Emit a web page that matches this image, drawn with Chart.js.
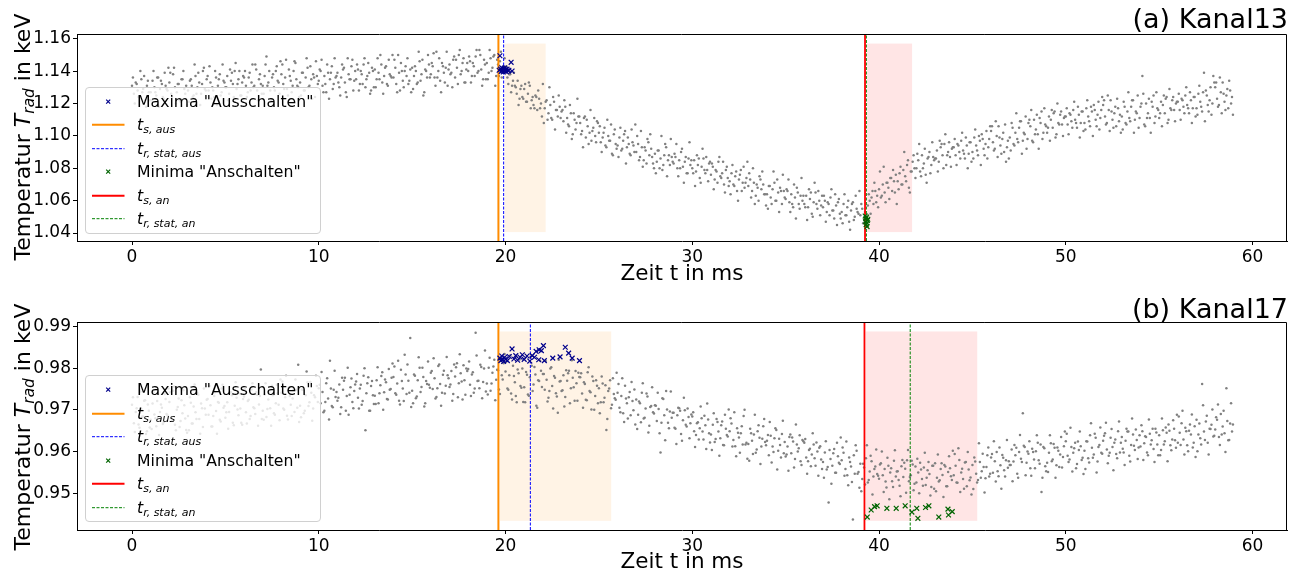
<!DOCTYPE html>
<html>
<head>
<meta charset="utf-8">
<script src="https://cdn.jsdelivr.net/npm/chart.js@4.4.1/dist/chart.umd.min.js"></script>
<style>
  body { margin: 0; background: #fff; font-family: 'DejaVu Sans', sans-serif; color: #000; }
  #wrap { position: relative; width: 1305px; height: 579px; overflow: hidden; }
  canvas { position: absolute; left: 0; }
  .titel { position: absolute; right: 17px; font-size: 27px; line-height: 27px; white-space: nowrap; }
  .xlabel { position: absolute; font-size: 21.5px; line-height: 22px; white-space: nowrap; transform: translate(-50%, -50%); }
  .ylabel { position: absolute; font-size: 22px; line-height: 22px; white-space: nowrap; transform: translate(-50%, -50%) rotate(-90deg); }
  .ylabel sub, .legende sub { font-size: 70%; font-style: italic; vertical-align: -0.28em; line-height: 0; }
  .legende { position: absolute; left: 85px; width: 236px; height: 147px; box-sizing: border-box;
    padding: 2px 0 0 6px; background: rgba(255,255,255,0.8); border: 1px solid #d0d0d0; border-radius: 4px;
    font-size: 15.7px; }
  .lg-row { display: flex; align-items: center; height: 23.5px; }
  .lg-row svg { flex: none; }
</style>
</head>
<body>
<div id="wrap">
  <canvas id="kanal13" width="1305" height="290" style="top:0"></canvas>
  <canvas id="kanal17" width="1305" height="290" style="top:289px"></canvas>
</div>
<script>
const dtMs = 0.1;
const xTicks = [0, 10, 20, 30, 40, 50, 60];
const xRange = [-2.945, 61.845];

// Kanal 13, T_rad in keV, Abtastung alle 0.1 ms ab t = 0
const temp13 = [
  1.131,1.126,1.133,1.128,1.124,1.135,1.129,1.122,1.131,1.127,
  1.127,1.134,1.130,1.125,1.136,1.129,1.132,1.123,1.131,1.128,
  1.133,1.126,1.138,1.130,1.127,1.132,1.121,1.135,1.129,1.131,
  1.128,1.134,1.131,1.125,1.137,1.130,1.133,1.126,1.140,1.129,
  1.135,1.128,1.133,1.130,1.124,1.136,1.131,1.138,1.127,1.134,
  1.130,1.137,1.126,1.134,1.132,1.140,1.129,1.135,1.125,1.133,
  1.136,1.131,1.127,1.139,1.133,1.130,1.144,1.128,1.135,1.132,
  1.131,1.137,1.149,1.133,1.128,1.136,1.130,1.140,1.134,1.126,
  1.138,1.132,1.136,1.129,1.141,1.134,1.131,1.146,1.135,1.130,
  1.133,1.139,1.128,1.136,1.142,1.131,1.135,1.138,1.124,1.137,
  1.134,1.140,1.131,1.137,1.127,1.139,1.135,1.143,1.132,1.136,
  1.139,1.130,1.136,1.141,1.133,1.124,1.138,1.135,1.147,1.134,
  1.135,1.141,1.132,1.138,1.144,1.130,1.137,1.139,1.128,1.140,
  1.141,1.135,1.139,1.150,1.133,1.137,1.143,1.131,1.138,1.136,
  1.136,1.142,1.127,1.139,1.145,1.134,1.140,1.137,1.132,1.141,
  1.142,1.137,1.140,1.133,1.146,1.138,1.125,1.141,1.136,1.144,
  1.138,1.143,1.136,1.152,1.140,1.134,1.145,1.139,1.142,1.131,
  1.144,1.139,1.147,1.136,1.142,1.150,1.138,1.145,1.133,1.141,
  1.140,1.146,1.137,1.143,1.149,1.139,1.153,1.141,1.135,1.144,
  1.145,1.139,1.148,1.142,1.150,1.137,1.144,1.146,1.136,1.143,
  1.141,1.136,1.138,1.127,1.134,1.131,1.126,1.119,1.129,1.124,
  1.129,1.121,1.126,1.131,1.122,1.119,1.125,1.116,1.123,1.120,
  1.132,1.117,1.122,1.114,1.119,1.110,1.121,1.116,1.112,1.118,
  1.115,1.109,1.118,1.111,1.106,1.114,1.101,1.110,1.108,1.112,
  1.108,1.103,1.111,1.099,1.106,1.102,1.097,1.105,1.100,1.109,
  1.102,1.096,1.099,1.105,1.093,1.100,1.097,1.089,1.101,1.095,
  1.094,1.099,1.091,1.097,1.103,1.093,1.095,1.088,1.096,1.090,
  1.090,1.095,1.087,1.093,1.085,1.091,1.098,1.088,1.092,1.083,
  1.089,1.084,1.091,1.086,1.079,1.088,1.093,1.085,1.082,1.087,
  1.083,1.087,1.080,1.085,1.090,1.081,1.084,1.077,1.086,1.082,
  1.080,1.085,1.078,1.082,1.074,1.081,1.086,1.077,1.079,1.083,
  1.076,1.081,1.073,1.078,1.084,1.075,1.077,1.070,1.079,1.074,
  1.072,1.077,1.070,1.075,1.066,1.073,1.079,1.071,1.068,1.074,
  1.069,1.073,1.066,1.071,1.063,1.068,1.075,1.067,1.070,1.064,
  1.064,1.069,1.062,1.067,1.071,1.060,1.065,1.068,1.058,1.066,
  1.061,1.066,1.059,1.064,1.056,1.062,1.068,1.058,1.063,1.060,
  1.058,1.063,1.056,1.061,1.052,1.059,1.065,1.055,1.060,1.057,
  1.056,1.060,1.053,1.058,1.062,1.054,1.049,1.057,1.059,1.052,
  1.053,1.058,1.051,1.056,1.047,1.054,1.059,1.050,1.055,1.052,
  1.051,1.055,1.048,1.049,1.057,1.060,1.062,1.058,1.066,1.063,
  1.067,1.062,1.070,1.065,1.071,1.068,1.074,1.066,1.072,1.076,
  1.072,1.077,1.070,1.079,1.075,1.082,1.068,1.078,1.084,1.080,
  1.080,1.085,1.078,1.088,1.083,1.076,1.086,1.090,1.082,1.087,
  1.086,1.091,1.084,1.093,1.088,1.095,1.082,1.090,1.087,1.092,
  1.093,1.088,1.095,1.090,1.097,1.091,1.086,1.094,1.089,1.096,
  1.090,1.099,1.094,1.088,1.097,1.101,1.092,1.095,1.086,1.098,
  1.103,1.096,1.092,1.100,1.106,1.094,1.098,1.090,1.084,1.097,
  1.099,1.108,1.095,1.102,1.098,1.105,1.109,1.097,1.101,1.092,
  1.108,1.106,1.097,1.110,1.104,1.101,1.111,1.115,1.102,1.107,
  1.102,1.112,1.110,1.105,1.115,1.101,1.108,1.113,1.107,1.111,
  1.112,1.107,1.114,1.109,1.116,1.110,1.105,1.113,1.108,1.115,
  1.108,1.117,1.112,1.106,1.115,1.119,1.110,1.113,1.104,1.116,
  1.119,1.112,1.108,1.116,1.122,1.110,1.114,1.106,1.117,1.113,
  1.112,1.121,1.108,1.115,1.111,1.118,1.122,1.110,1.114,1.105,
  1.118,1.137,1.107,1.120,1.114,1.111,1.121,1.125,1.112,1.117,
  1.111,1.121,1.119,1.114,1.124,1.110,1.117,1.122,1.116,1.120,
  1.121,1.116,1.123,1.118,1.125,1.119,1.114,1.122,1.117,1.124,
  1.117,1.126,1.121,1.115,1.139,1.128,1.119,1.122,1.113,1.137,
  1.130,1.123,1.119,1.127,1.133,1.121,1.125,1.117,1.128,1.124
];

// Kanal 13, um 0.05 ms versetzte Abtastung
const temp13versetzt = [
  1.136,1.120,1.132,1.124,1.140,1.127,1.137,1.118,1.134,1.122,
  1.122,1.140,1.127,1.136,1.118,1.134,1.124,1.139,1.129,1.142,
  1.139,1.124,1.142,1.120,1.132,1.122,1.135,1.140,1.126,1.119,
  1.121,1.135,1.124,1.144,1.126,1.139,1.119,1.132,1.142,1.128,
  1.137,1.143,1.123,1.128,1.140,1.119,1.135,1.125,1.144,1.133,
  1.130,1.122,1.141,1.139,1.124,1.145,1.132,1.140,1.125,1.137,
  1.140,1.124,1.136,1.128,1.144,1.131,1.141,1.122,1.138,1.126,
  1.126,1.144,1.131,1.140,1.122,1.138,1.128,1.143,1.133,1.146,
  1.144,1.129,1.147,1.125,1.137,1.127,1.140,1.145,1.131,1.124,
  1.125,1.139,1.128,1.148,1.130,1.143,1.123,1.136,1.146,1.132,
  1.141,1.147,1.127,1.132,1.144,1.123,1.139,1.129,1.148,1.137,
  1.133,1.125,1.144,1.142,1.127,1.148,1.135,1.143,1.128,1.140,
  1.144,1.128,1.140,1.132,1.148,1.135,1.145,1.126,1.142,1.130,
  1.130,1.148,1.135,1.144,1.126,1.142,1.132,1.147,1.137,1.150,
  1.147,1.132,1.150,1.128,1.140,1.130,1.143,1.148,1.134,1.127,
  1.129,1.143,1.132,1.152,1.134,1.147,1.127,1.140,1.150,1.136,
  1.145,1.151,1.131,1.136,1.148,1.127,1.143,1.133,1.152,1.141,
  1.138,1.130,1.149,1.147,1.132,1.153,1.140,1.148,1.133,1.145,
  1.149,1.133,1.145,1.137,1.153,1.140,1.150,1.131,1.147,1.135,
  1.135,1.153,1.140,1.149,1.131,1.147,1.137,1.152,1.142,1.148,
  1.143,1.132,1.138,1.131,1.139,1.130,1.134,1.123,1.131,1.123,
  1.132,1.121,1.133,1.117,1.124,1.117,1.124,1.128,1.117,1.112,
  1.108,1.121,1.110,1.130,1.111,1.124,1.104,1.116,1.125,1.111,
  1.116,1.122,1.102,1.107,1.119,1.098,1.114,1.104,1.123,1.112,
  1.101,1.093,1.112,1.110,1.095,1.116,1.103,1.111,1.096,1.108,
  1.106,1.090,1.102,1.094,1.110,1.097,1.107,1.088,1.104,1.092,
  1.087,1.105,1.092,1.101,1.083,1.099,1.089,1.104,1.094,1.107,
  1.100,1.085,1.103,1.081,1.093,1.083,1.096,1.101,1.087,1.080,
  1.077,1.091,1.080,1.100,1.082,1.095,1.075,1.088,1.098,1.084,
  1.089,1.095,1.075,1.080,1.092,1.071,1.087,1.077,1.096,1.085,
  1.077,1.069,1.088,1.086,1.071,1.092,1.079,1.087,1.072,1.084,
  1.083,1.067,1.079,1.071,1.087,1.074,1.084,1.065,1.081,1.069,
  1.064,1.082,1.069,1.078,1.060,1.076,1.066,1.081,1.071,1.084,
  1.077,1.062,1.080,1.058,1.070,1.060,1.073,1.078,1.064,1.057,
  1.055,1.069,1.058,1.078,1.060,1.073,1.053,1.066,1.076,1.062,
  1.067,1.073,1.053,1.058,1.070,1.049,1.065,1.055,1.074,1.063,
  1.056,1.048,1.067,1.065,1.050,1.071,1.058,1.066,1.051,1.063,
  1.063,1.047,1.059,1.051,1.067,1.054,1.064,1.045,1.061,1.049,
  1.046,1.064,1.051,1.060,1.042,1.058,1.048,1.063,1.053,1.066,
  1.058,1.046,1.053,1.044,1.064,1.052,1.066,1.071,1.059,1.056,
  1.078,1.063,1.081,1.059,1.071,1.061,1.074,1.079,1.065,1.058,
  1.067,1.081,1.070,1.090,1.072,1.085,1.065,1.078,1.088,1.074,
  1.089,1.095,1.075,1.080,1.092,1.071,1.087,1.077,1.096,1.085,
  1.086,1.078,1.097,1.095,1.080,1.101,1.088,1.096,1.081,1.093,
  1.098,1.082,1.094,1.086,1.102,1.089,1.099,1.080,1.096,1.084,
  1.086,1.104,1.091,1.100,1.082,1.098,1.088,1.103,1.093,1.106,
  1.106,1.091,1.109,1.087,1.099,1.089,1.102,1.107,1.093,1.086,
  1.091,1.105,1.094,1.114,1.096,1.109,1.089,1.102,1.112,1.098,
  1.110,1.116,1.096,1.101,1.113,1.092,1.108,1.098,1.117,1.106,
  1.105,1.097,1.116,1.114,1.099,1.120,1.107,1.115,1.100,1.112,
  1.117,1.101,1.113,1.105,1.121,1.108,1.118,1.099,1.115,1.103,
  1.104,1.122,1.109,1.118,1.100,1.116,1.106,1.121,1.111,1.124,
  1.122,1.107,1.125,1.103,1.115,1.105,1.118,1.123,1.109,1.102,
  1.104,1.118,1.107,1.127,1.109,1.122,1.102,1.115,1.125,1.111,
  1.120,1.126,1.106,1.111,1.123,1.102,1.118,1.108,1.127,1.116,
  1.114,1.106,1.125,1.123,1.108,1.129,1.116,1.124,1.109,1.121,
  1.126,1.110,1.122,1.114,1.130,1.117,1.127,1.108,1.124,1.112,
  1.113,1.131,1.118,1.127,1.109,1.125,1.115,1.130,1.120,1.133,
  1.133,1.118,1.136,1.114,1.126,1.116,1.129,1.134,1.120,1.113
];

// Kanal 17, T_rad in keV, Abtastung alle 0.1 ms ab t = 0
const temp17 = [
  0.9712,0.9668,0.9695,0.9731,0.9657,0.9702,0.9684,0.9723,0.9649,0.9698,
  0.9676,0.9715,0.9689,0.9661,0.9738,0.9695,0.9705,0.9670,0.9726,0.9687,
  0.9719,0.9681,0.9746,0.9664,0.9700,0.9727,0.9673,0.9692,0.9711,0.9652,
  0.9685,0.9730,0.9667,0.9708,0.9694,0.9741,0.9678,0.9715,0.9659,0.9703,
  0.9724,0.9688,0.9711,0.9660,0.9733,0.9697,0.9719,0.9676,0.9751,0.9705,
  0.9681,0.9718,0.9695,0.9742,0.9669,0.9710,0.9729,0.9687,0.9703,0.9664,
  0.9732,0.9694,0.9721,0.9678,0.9749,0.9706,0.9690,0.9736,0.9713,0.9797,
  0.9698,0.9737,0.9683,0.9725,0.9704,0.9758,0.9692,0.9716,0.9740,0.9675,
  0.9741,0.9703,0.9730,0.9686,0.9754,0.9712,0.9727,0.9695,0.9748,0.9808,
  0.9710,0.9749,0.9692,0.9735,0.9766,0.9718,0.9741,0.9703,0.9730,0.9757,
  0.9752,0.9716,0.9743,0.9698,0.9764,0.9727,0.9818,0.9709,0.9748,0.9731,
  0.9722,0.9761,0.9706,0.9748,0.9777,0.9733,0.9688,0.9754,0.9719,0.9745,
  0.9768,0.9729,0.9751,0.9712,0.9782,0.9651,0.9764,0.9698,0.9757,0.9735,
  0.9734,0.9771,0.9716,0.9759,0.9790,0.9742,0.9766,0.9725,0.9748,0.9777,
  0.9779,0.9740,0.9763,0.9722,0.9796,0.9751,0.9832,0.9738,0.9770,0.9872,
  0.9746,0.9785,0.9728,0.9771,0.9801,0.9755,0.9779,0.9716,0.9762,0.9760,
  0.9789,0.9750,0.9776,0.9731,0.9805,0.9762,0.9741,0.9794,0.9758,0.9783,
  0.9755,0.9793,0.9738,0.9780,0.9812,0.9764,0.9788,0.9725,0.9771,0.9799,
  0.9798,0.9760,0.9785,0.9741,0.9885,0.9769,0.9752,0.9803,0.9767,0.9842,
  0.9763,0.9801,0.9746,0.9789,0.9820,0.9772,0.9795,0.9738,0.9783,0.9812,
  0.9792,0.9751,0.9783,0.9739,0.9806,0.9766,0.9718,0.9788,0.9757,0.9799,
  0.9754,0.9791,0.9737,0.9778,0.9806,0.9761,0.9785,0.9705,0.9769,0.9794,
  0.9786,0.9748,0.9772,0.9729,0.9799,0.9757,0.9781,0.9740,0.9693,0.9768,
  0.9745,0.9783,0.9731,0.9770,0.9794,0.9752,0.9777,0.9722,0.9764,0.9789,
  0.9778,0.9739,0.9766,0.9724,0.9790,0.9745,0.9701,0.9769,0.9733,0.9758,
  0.9752,0.9718,0.9763,0.9729,0.9652,0.9745,0.9771,0.9712,0.9738,0.9724,
  0.9741,0.9705,0.9733,0.9692,0.9758,0.9716,0.9730,0.9687,0.9721,0.9749,
  0.9725,0.9688,0.9716,0.9741,0.9679,0.9703,0.9732,0.9662,0.9709,0.9694,
  0.9711,0.9673,0.9702,0.9598,0.9728,0.9687,0.9745,0.9669,0.9696,0.9681,
  0.9693,0.9655,0.9687,0.9704,0.9642,0.9675,0.9699,0.9660,0.9683,0.9668,
  0.9684,0.9649,0.9640,0.9670,0.9656,0.9680,0.9629,0.9663,0.9715,0.9644,
  0.9641,0.9664,0.9623,0.9678,0.9648,0.9632,0.9672,0.9615,0.9655,0.9636,
  0.9649,0.9667,0.9628,0.9613,0.9656,0.9634,0.9644,0.9617,0.9700,0.9621,
  0.9618,0.9655,0.9626,0.9641,0.9597,0.9649,0.9633,0.9612,0.9661,0.9623,
  0.9626,0.9591,0.9638,0.9612,0.9632,0.9652,0.9602,0.9616,0.9642,0.9596,
  0.9588,0.9612,0.9635,0.9596,0.9624,0.9582,0.9617,0.9608,0.9577,0.9628,
  0.9621,0.9586,0.9577,0.9607,0.9593,0.9617,0.9566,0.9600,0.9609,0.9581,
  0.9575,0.9598,0.9557,0.9478,0.9582,0.9566,0.9606,0.9549,0.9589,0.9570,
  0.9579,0.9597,0.9558,0.9543,0.9586,0.9564,0.9437,0.9547,0.9602,0.9551,
  0.9571,0.9534,0.9562,0.9584,0.9526,0.9552,0.9577,0.9540,0.9564,0.9546,
  0.9535,0.9572,0.9543,0.9558,0.9514,0.9566,0.9550,0.9529,0.9578,0.9540,
  0.9553,0.9518,0.9565,0.9539,0.9559,0.9579,0.9529,0.9543,0.9569,0.9523,
  0.9526,0.9550,0.9573,0.9534,0.9562,0.9520,0.9555,0.9546,0.9515,0.9566,
  0.9572,0.9537,0.9528,0.9558,0.9544,0.9568,0.9517,0.9551,0.9560,0.9532,
  0.9543,0.9566,0.9525,0.9580,0.9550,0.9534,0.9574,0.9517,0.9557,0.9538,
  0.9568,0.9586,0.9547,0.9532,0.9575,0.9553,0.9563,0.9536,0.9591,0.9540,
  0.9586,0.9549,0.9577,0.9599,0.9541,0.9567,0.9592,0.9555,0.9579,0.9561,
  0.9568,0.9605,0.9576,0.9591,0.9547,0.9599,0.9583,0.9692,0.9611,0.9573,
  0.9595,0.9560,0.9607,0.9581,0.9601,0.9621,0.9571,0.9503,0.9611,0.9565,
  0.9573,0.9597,0.9620,0.9581,0.9609,0.9567,0.9602,0.9593,0.9562,0.9613,
  0.9625,0.9590,0.9581,0.9611,0.9597,0.9621,0.9570,0.9604,0.9613,0.9585,
  0.9602,0.9625,0.9584,0.9639,0.9609,0.9593,0.9633,0.9576,0.9616,0.9597,
  0.9626,0.9644,0.9605,0.9590,0.9633,0.9611,0.9621,0.9594,0.9649,0.9598,
  0.9635,0.9598,0.9626,0.9648,0.9590,0.9616,0.9641,0.9604,0.9628,0.9610,
  0.9612,0.9649,0.9620,0.9635,0.9591,0.9643,0.9627,0.9606,0.9655,0.9617,
  0.9639,0.9604,0.9651,0.9625,0.9645,0.9665,0.9615,0.9629,0.9655,0.9609,
  0.9621,0.9645,0.9668,0.9629,0.9657,0.9615,0.9650,0.9641,0.9610,0.9661,
  0.9676,0.9641,0.9632,0.9762,0.9648,0.9672,0.9621,0.9655,0.9664,0.9636,
  0.9653,0.9676,0.9635,0.9690,0.9660,0.9644,0.9752,0.9627,0.9667,0.9648
];

// Kanal 17, um 0.05 ms versetzte Abtastung
const temp17versetzt = [
  0.9730,0.9647,0.9704,0.9665,0.9744,0.9684,0.9722,0.9642,0.9713,0.9658,
  0.9654,0.9742,0.9680,0.9721,0.9640,0.9713,0.9666,0.9738,0.9690,0.9751,
  0.9742,0.9674,0.9756,0.9651,0.9707,0.9659,0.9723,0.9747,0.9679,0.9645,
  0.9651,0.9717,0.9667,0.9761,0.9678,0.9736,0.9643,0.9704,0.9751,0.9688,
  0.9726,0.9757,0.9660,0.9685,0.9742,0.9643,0.9717,0.9672,0.9760,0.9709,
  0.9694,0.9655,0.9742,0.9735,0.9663,0.9766,0.9701,0.9740,0.9669,0.9726,
  0.9750,0.9667,0.9724,0.9685,0.9764,0.9704,0.9742,0.9662,0.9733,0.9678,
  0.9676,0.9764,0.9702,0.9743,0.9662,0.9735,0.9688,0.9760,0.9712,0.9773,
  0.9768,0.9700,0.9782,0.9677,0.9733,0.9685,0.9749,0.9773,0.9705,0.9671,
  0.9682,0.9748,0.9698,0.9792,0.9709,0.9767,0.9674,0.9735,0.9782,0.9719,
  0.9760,0.9791,0.9694,0.9719,0.9776,0.9677,0.9751,0.9706,0.9794,0.9743,
  0.9729,0.9690,0.9777,0.9770,0.9698,0.9801,0.9736,0.9775,0.9704,0.9761,
  0.9786,0.9703,0.9760,0.9721,0.9800,0.9740,0.9778,0.9698,0.9769,0.9714,
  0.9714,0.9802,0.9740,0.9781,0.9700,0.9773,0.9726,0.9798,0.9750,0.9811,
  0.9804,0.9736,0.9818,0.9713,0.9769,0.9721,0.9785,0.9809,0.9741,0.9707,
  0.9716,0.9782,0.9732,0.9826,0.9743,0.9801,0.9708,0.9769,0.9816,0.9753,
  0.9793,0.9824,0.9727,0.9752,0.9809,0.9710,0.9784,0.9739,0.9827,0.9776,
  0.9761,0.9722,0.9809,0.9802,0.9730,0.9833,0.9768,0.9807,0.9736,0.9793,
  0.9816,0.9733,0.9790,0.9751,0.9830,0.9770,0.9808,0.9728,0.9799,0.9744,
  0.9737,0.9825,0.9763,0.9804,0.9723,0.9796,0.9749,0.9821,0.9773,0.9834,
  0.9816,0.9748,0.9830,0.9725,0.9781,0.9733,0.9797,0.9821,0.9753,0.9719,
  0.9718,0.9784,0.9734,0.9828,0.9745,0.9803,0.9710,0.9771,0.9818,0.9755,
  0.9786,0.9817,0.9720,0.9745,0.9802,0.9703,0.9777,0.9732,0.9820,0.9769,
  0.9747,0.9708,0.9795,0.9788,0.9716,0.9819,0.9754,0.9793,0.9722,0.9779,
  0.9788,0.9705,0.9762,0.9723,0.9802,0.9742,0.9780,0.9700,0.9771,0.9716,
  0.9692,0.9780,0.9718,0.9759,0.9678,0.9751,0.9704,0.9776,0.9728,0.9789,
  0.9762,0.9694,0.9776,0.9671,0.9727,0.9679,0.9743,0.9767,0.9699,0.9665,
  0.9654,0.9720,0.9670,0.9764,0.9681,0.9739,0.9646,0.9707,0.9754,0.9691,
  0.9710,0.9741,0.9644,0.9669,0.9726,0.9627,0.9701,0.9656,0.9744,0.9693,
  0.9657,0.9618,0.9705,0.9698,0.9626,0.9729,0.9664,0.9703,0.9632,0.9689,
  0.9694,0.9611,0.9668,0.9629,0.9708,0.9648,0.9686,0.9606,0.9677,0.9622,
  0.9604,0.9692,0.9630,0.9671,0.9590,0.9663,0.9616,0.9688,0.9640,0.9701,
  0.9680,0.9612,0.9694,0.9589,0.9645,0.9597,0.9661,0.9685,0.9617,0.9583,
  0.9578,0.9644,0.9594,0.9688,0.9605,0.9663,0.9570,0.9631,0.9678,0.9615,
  0.9640,0.9671,0.9574,0.9599,0.9656,0.9557,0.9631,0.9586,0.9674,0.9623,
  0.9593,0.9554,0.9641,0.9634,0.9562,0.9665,0.9600,0.9639,0.9568,0.9625,
  0.9630,0.9547,0.9604,0.9565,0.9644,0.9584,0.9622,0.9542,0.9613,0.9558,
  0.9537,0.9625,0.9563,0.9604,0.9523,0.9596,0.9549,0.9621,0.9573,0.9634,
  0.9610,0.9542,0.9624,0.9519,0.9575,0.9527,0.9591,0.9615,0.9547,0.9513,
  0.9505,0.9571,0.9521,0.9615,0.9532,0.9590,0.9497,0.9558,0.9605,0.9542,
  0.9569,0.9600,0.9503,0.9528,0.9585,0.9486,0.9560,0.9515,0.9603,0.9552,
  0.9532,0.9493,0.9580,0.9573,0.9501,0.9604,0.9539,0.9578,0.9507,0.9564,
  0.9583,0.9500,0.9557,0.9518,0.9597,0.9537,0.9575,0.9495,0.9566,0.9511,
  0.9505,0.9593,0.9531,0.9572,0.9491,0.9564,0.9517,0.9589,0.9541,0.9602,
  0.9594,0.9526,0.9608,0.9503,0.9559,0.9511,0.9575,0.9599,0.9531,0.9497,
  0.9510,0.9576,0.9526,0.9620,0.9537,0.9595,0.9502,0.9563,0.9610,0.9547,
  0.9594,0.9625,0.9528,0.9553,0.9610,0.9511,0.9585,0.9540,0.9628,0.9577,
  0.9568,0.9529,0.9616,0.9609,0.9537,0.9640,0.9575,0.9614,0.9543,0.9600,
  0.9625,0.9542,0.9599,0.9560,0.9639,0.9579,0.9617,0.9537,0.9608,0.9553,
  0.9551,0.9639,0.9577,0.9618,0.9537,0.9610,0.9563,0.9635,0.9587,0.9648,
  0.9643,0.9575,0.9657,0.9552,0.9608,0.9560,0.9624,0.9648,0.9580,0.9546,
  0.9558,0.9624,0.9574,0.9668,0.9585,0.9643,0.9550,0.9611,0.9658,0.9595,
  0.9638,0.9669,0.9572,0.9597,0.9654,0.9555,0.9629,0.9584,0.9672,0.9621,
  0.9607,0.9568,0.9655,0.9648,0.9576,0.9679,0.9614,0.9653,0.9582,0.9639,
  0.9663,0.9580,0.9637,0.9598,0.9677,0.9617,0.9655,0.9575,0.9646,0.9591,
  0.9591,0.9679,0.9617,0.9658,0.9577,0.9650,0.9603,0.9675,0.9627,0.9688,
  0.9684,0.9616,0.9698,0.9593,0.9649,0.9601,0.9665,0.9689,0.9621,0.9587,
  0.9601,0.9667,0.9617,0.9711,0.9628,0.9686,0.9593,0.9654,0.9701,0.9638,
  0.9682,0.9713,0.9616,0.9641,0.9698,0.9599,0.9673,0.9628,0.9716,0.9665
];

// Maxima "Ausschalten" / Minima "Anschalten"
const maxZeit13 = [19.66, 19.70, 19.74, 19.77, 19.80, 19.82, 19.85, 19.88, 19.91, 19.94, 19.97, 20.00, 20.04, 20.08, 20.13, 20.18, 20.30, 20.35];
const maxTemp13 = [1.1405, 1.1495, 1.1412, 1.1398, 1.1420, 1.1403, 1.1415, 1.1395, 1.1408, 1.1418, 1.1400, 1.1410, 1.1397, 1.1412, 1.1402, 1.1405, 1.1454, 1.1400];
const minZeit13 = [39.26, 39.28, 39.30, 39.31, 39.33, 39.35, 39.36, 39.38, 39.40];
const minTemp13 = [1.0505, 1.0470, 1.0488, 1.0452, 1.0498, 1.0462, 1.0440, 1.0478, 1.0485];

const maxZeit17 = [19.70, 19.75, 19.80, 19.85, 19.90, 19.95, 20.00, 20.10, 20.20, 20.35, 20.45, 20.55, 20.65, 20.78, 20.90, 21.00,
  21.15, 21.30, 21.43, 21.55, 21.64, 21.78, 21.80, 21.92, 22.03, 22.08, 22.53, 22.92, 23.20, 23.38, 23.57, 23.96];
const maxTemp17 = [0.9824, 0.9818, 0.9829, 0.9821, 0.9816, 0.9826, 0.9822, 0.9818, 0.9828, 0.9846, 0.9822, 0.9830, 0.9819, 0.9826, 0.9832, 0.9821,
  0.9829, 0.9817, 0.9830, 0.9826, 0.9840, 0.9820, 0.9844, 0.9842, 0.9854, 0.9818, 0.9824, 0.9827, 0.9850, 0.9836, 0.9824, 0.9818];
const minZeit17 = [39.37, 39.58, 39.76, 39.90, 40.42, 40.92, 41.40, 41.76, 42.02, 42.08, 42.49, 42.67, 43.20, 43.69, 43.72, 43.92];
const minTemp17 = [0.9443, 0.9460, 0.9468, 0.9470, 0.9464, 0.9464, 0.9470, 0.9455, 0.9464, 0.9440, 0.9466, 0.9470, 0.9443, 0.9462, 0.9448, 0.9456];

// Schaltzeiten t_s, t_r,stat und Bereiche in ms
const schalt13 = { tsAus: 19.62, trAus: 19.90, tsAn: 39.25, trAn: 39.32 };
const schalt17 = { tsAus: 19.62, trAus: 21.33, tsAn: 39.22, trAn: 41.67 };
const bereichAus13 = [19.95, 22.15], bereichAn13 = [39.36, 41.77], bereichTemp13 = [1.0406, 1.1570];
const bereichAus17 = [19.70, 25.66], bereichAn17 = [39.28, 45.26], bereichTemp17 = [0.9434, 0.9888];

const yTicks13 = [1.04, 1.06, 1.08, 1.10, 1.12, 1.14, 1.16];
const yTicks17 = [0.95, 0.96, 0.97, 0.98, 0.99];
const yRange13 = [1.0351, 1.1629];
const yRange17 = [0.9412, 0.99106];

const farben = {
  punkte: '#808080', maxima: '#00008b', minima: '#006400',
  tsAus: '#ff8c00', trAus: '#0000ff', tsAn: '#ff0000', trAn: '#008000',
  flaecheAus: 'rgba(255,140,0,0.1)', flaecheAn: 'rgba(255,0,0,0.1)'
};

const legendItems = [
  { kind: 'cross', color: farben.maxima, label: 'Maxima "Ausschalten"' },
  { kind: 'line', color: farben.tsAus, width: 2, dash: '', label: '<i>t</i><sub>s, aus</sub>' },
  { kind: 'line', color: farben.trAus, width: 1, dash: '3 1.5', label: '<i>t</i><sub>r, stat, aus</sub>' },
  { kind: 'cross', color: farben.minima, label: 'Minima "Anschalten"' },
  { kind: 'line', color: farben.tsAn, width: 2, dash: '', label: '<i>t</i><sub>s, an</sub>' },
  { kind: 'line', color: farben.trAn, width: 1, dash: '3 1.5', label: '<i>t</i><sub>r, stat, an</sub>' }
];

Chart.defaults.font.family = "'DejaVu Sans', sans-serif";
Chart.defaults.color = '#000';

const rahmen = {
  id: 'rahmen',
  beforeDatasetsDraw(chart, args, opts) {
    const { ctx, scales: { x, y } } = chart;
    ctx.save();
    opts.flaechen.forEach(f => {
      const l = x.getPixelForValue(f.von), r = x.getPixelForValue(f.bis);
      const t = y.getPixelForValue(f.temp[1]), b = y.getPixelForValue(f.temp[0]);
      ctx.fillStyle = f.farbe;
      ctx.fillRect(l, t, r - l, b - t);
    });
    ctx.restore();
  },
  afterDraw(chart) {
    const { ctx, chartArea: a } = chart;
    ctx.save();
    ctx.strokeStyle = '#000';
    ctx.lineWidth = 1;
    ctx.beginPath();
    ctx.moveTo(a.left, a.top + 0.5);
    ctx.lineTo(a.right - 0.5, a.top + 0.5);
    ctx.lineTo(a.right - 0.5, a.bottom);
    ctx.stroke();
    ctx.restore();
  }
};

function senkrechte(t, yr, farbe, breite, dash) {
  return {
    data: [{ x: t, y: yr[0] }, { x: t, y: yr[1] }],
    showLine: true, pointRadius: 0, borderColor: farbe, borderWidth: breite,
    borderDash: dash, order: 2
  };
}

function zeichne(id, p) {
  const punkte = p.temp.map((v, i) => ({ x: +(i * dtMs).toFixed(2), y: v }))
    .concat(p.tempVersetzt.map((v, i) => ({ x: +((i + 0.5) * dtMs).toFixed(2), y: v })));
  new Chart(document.getElementById(id), {
    type: 'scatter',
    data: {
      datasets: [
        { data: punkte, pointRadius: 1.25, borderWidth: 0, backgroundColor: farben.punkte, order: 3 },
        senkrechte(p.schalt.tsAus, p.yRange, farben.tsAus, 2, []),
        senkrechte(p.schalt.trAus, p.yRange, farben.trAus, 1, [3, 1.5]),
        senkrechte(p.schalt.tsAn, p.yRange, farben.tsAn, 1.8, []),
        senkrechte(p.schalt.trAn, p.yRange, farben.trAn, 1, [3, 1.5]),
        { data: p.maxZeit.map((t, i) => ({ x: t, y: p.maxTemp[i] })), pointStyle: 'crossRot', pointRadius: 3.4,
          borderWidth: 1.2, borderColor: farben.maxima, backgroundColor: farben.maxima, order: 1 },
        { data: p.minZeit.map((t, i) => ({ x: t, y: p.minTemp[i] })), pointStyle: 'crossRot', pointRadius: 3.4,
          borderWidth: 1.2, borderColor: farben.minima, backgroundColor: farben.minima, order: 1 }
      ]
    },
    options: {
      responsive: false,
      animation: false,
      events: [],
      layout: { padding: { top: p.padTop, right: 18, left: 0, bottom: 0 } },
      plugins: {
        legend: { display: false },
        tooltip: { enabled: false },
        rahmen: {
          flaechen: [
            { von: p.bereichAus[0], bis: p.bereichAus[1], temp: p.bereichTemp, farbe: farben.flaecheAus },
            { von: p.bereichAn[0], bis: p.bereichAn[1], temp: p.bereichTemp, farbe: farben.flaecheAn }
          ]
        }
      },
      scales: {
        x: {
          type: 'linear', min: xRange[0], max: xRange[1],
          afterFit: s => { s.height = 49; },
          afterBuildTicks: s => { s.ticks = xTicks.map(v => ({ value: v })); },
          ticks: { font: { size: 17 }, padding: 2, maxRotation: 0, autoSkip: false, callback: v => String(v) },
          grid: { drawOnChartArea: false, drawTicks: true, tickLength: 4, color: '#000' },
          border: { color: '#000', width: 1 }
        },
        y: {
          type: 'linear', min: p.yRange[0], max: p.yRange[1],
          afterFit: s => { s.width = 77; },
          afterBuildTicks: s => { s.ticks = p.yTicks.map(v => ({ value: v })); },
          ticks: { font: { size: 17 }, padding: 2, autoSkip: false, callback: v => v.toFixed(2) },
          grid: { drawOnChartArea: false, drawTicks: true, tickLength: 4, color: '#000' },
          border: { color: '#000', width: 1 }
        }
      }
    },
    plugins: [rahmen]
  });
}

function legendHtml() {
  return legendItems.map(it => {
    const sym = it.kind === 'cross'
      ? `<path d="M14.2 9.7l4 4M18.2 9.7l-4 4" stroke="${it.color}" stroke-width="1.2" fill="none"/>`
      : `<line x1="0" y1="11.7" x2="32.5" y2="11.7" stroke="${it.color}" stroke-width="${it.width}"${it.dash ? ` stroke-dasharray="${it.dash}"` : ''}/>`;
    return `<div class="lg-row"><svg width="45" height="23">${sym}</svg><span>${it.label}</span></div>`;
  }).join('');
}

function beschrifte(p) {
  const wrap = document.getElementById('wrap');
  const add = (cls, html, style) => {
    const d = document.createElement('div');
    d.className = cls;
    d.innerHTML = html;
    Object.assign(d.style, style);
    wrap.appendChild(d);
  };
  add('titel', p.titel, { top: (p.titelY - 13.5) + 'px' });
  add('xlabel', 'Zeit t in ms', { left: '682px', top: p.xlabelY + 'px' });
  add('ylabel', 'Temperatur <i>T</i><sub>rad</sub> in keV', { left: '23px', top: p.ylabelY + 'px' });
  add('legende', legendHtml(), { top: p.legendTop + 'px' });
}

const panel13 = {
  temp: temp13, tempVersetzt: temp13versetzt,
  maxZeit: maxZeit13, maxTemp: maxTemp13, minZeit: minZeit13, minTemp: minTemp13,
  schalt: schalt13, bereichAus: bereichAus13, bereichAn: bereichAn13, bereichTemp: bereichTemp13,
  yTicks: yTicks13, yRange: yRange13, padTop: 34,
  titel: '(a) Kanal13', titelY: 18, xlabelY: 273, ylabelY: 137, legendTop: 86.7
};
const panel17 = {
  temp: temp17, tempVersetzt: temp17versetzt,
  maxZeit: maxZeit17, maxTemp: maxTemp17, minZeit: minZeit17, minTemp: minTemp17,
  schalt: schalt17, bereichAus: bereichAus17, bereichAn: bereichAn17, bereichTemp: bereichTemp17,
  yTicks: yTicks17, yRange: yRange17, padTop: 33,
  titel: '(b) Kanal17', titelY: 308, xlabelY: 561, ylabelY: 427, legendTop: 375
};

zeichne('kanal13', panel13);
zeichne('kanal17', panel17);
beschrifte(panel13);
beschrifte(panel17);
</script>
</body>
</html>
